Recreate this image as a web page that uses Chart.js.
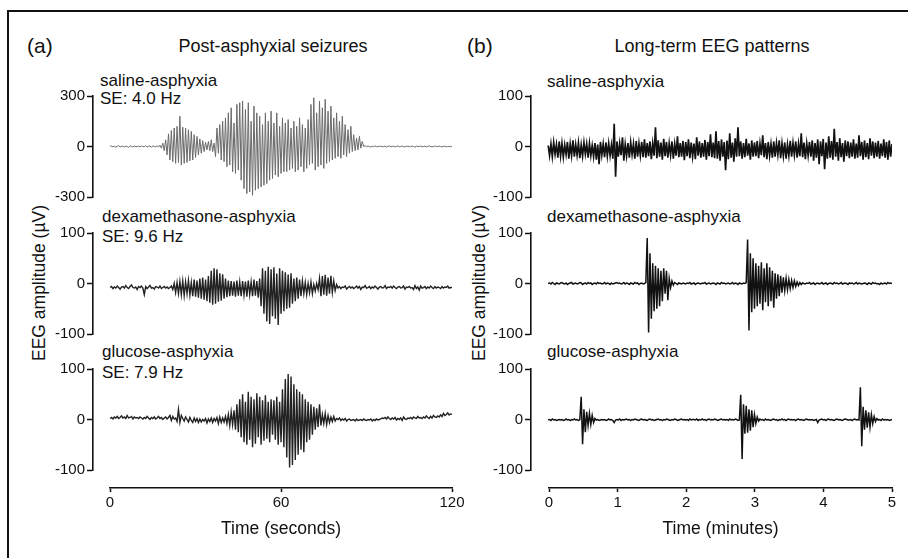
<!DOCTYPE html>
<html>
<head>
<meta charset="utf-8">
<script src="https://cdn.jsdelivr.net/npm/chart.js@4.4.1/dist/chart.umd.min.js"></script>
<style>
  body { margin: 0; background: #fff; font-family: "Liberation Sans", Arial, sans-serif; color: #111; }
  #page { position: relative; width: 908px; height: 558px; overflow: hidden; }
  #frame { position: absolute; left: 7px; top: 10px; width: 920px; height: 570px; border-left: 2px solid #111; border-top: 2px solid #111; }
  canvas { position: absolute; }
  .t { position: absolute; white-space: nowrap; line-height: 1; }
  .lbl { font-size: 17px; }
  .ttl { font-size: 18px; }
  .pan { font-size: 21px; }
  .ylab { position: absolute; width: 220px; height: 20px; line-height: 20px; text-align: center; font-size: 17.5px; transform: rotate(-90deg); white-space: nowrap; }
</style>
</head>
<body>
<div id="page">
  <div id="frame"></div>

  <div class="t pan" style="left:27px; top:35px">(a)</div>
  <div class="t ttl" style="left:273px; top:37px; transform:translateX(-50%)">Post-asphyxial seizures</div>
  <div class="t pan" style="left:467px; top:35px">(b)</div>
  <div class="t ttl" style="left:712px; top:37px; transform:translateX(-50%)">Long-term EEG patterns</div>

  <div class="t lbl" style="left:100px; top:72px">saline-asphyxia</div>
  <div class="t lbl" style="left:100px; top:90px">SE: 4.0 Hz</div>
  <div class="t lbl" style="left:102px; top:208px">dexamethasone-asphyxia</div>
  <div class="t lbl" style="left:102px; top:228px">SE: 9.6 Hz</div>
  <div class="t lbl" style="left:102px; top:343px">glucose-asphyxia</div>
  <div class="t lbl" style="left:102px; top:364px">SE: 7.9 Hz</div>

  <div class="t lbl" style="left:547px; top:73px">saline-asphyxia</div>
  <div class="t lbl" style="left:547px; top:208px">dexamethasone-asphyxia</div>
  <div class="t lbl" style="left:547px; top:343px">glucose-asphyxia</div>

  <div class="ylab" style="left:-71px; top:273px">EEG amplitude (µV)</div>
  <div class="ylab" style="left:369px; top:273px">EEG amplitude (µV)</div>
</div>

<script>
// seizure traces, 0-120 s, one value every 0.5 s (µV)
const salineSeizure = [
  0,3,-2,2,-4,1,5,-2,0,3,
  -3,2,0,-5,4,1,-2,3,-1,0,
  2,-3,4,0,-2,5,-4,2,1,-3,
  3,0,-2,4,-3,8,-10,20,-25,40,
  -50,75,-80,95,-90,110,-100,120,-95,180,
  -110,115,-100,110,-95,100,-85,90,-80,70,
  -65,60,-50,45,-40,35,-30,25,-20,30,
  -25,40,-30,20,-60,110,-40,130,-80,150,
  -90,170,-120,200,-110,230,-150,140,-160,250,
  -140,260,-200,270,-250,220,-280,260,-270,150,
  -290,240,-260,200,-250,180,-240,130,-230,200,
  -220,150,-200,210,-190,140,-170,200,-180,120,
  -160,170,-150,140,-150,160,-140,110,-130,150,
  -150,120,-140,170,-120,130,-150,110,-130,160,
  -110,250,-100,290,-140,200,-120,270,-110,230,
  -130,280,-100,210,-90,240,-80,170,-70,200,
  -60,150,-70,180,-50,130,-60,100,-40,120,
  -30,70,-25,50,-20,60,-10,30,0,5,
  -2,3,0,-3,2,-1,4,-2,1,0,
  3,-2,0,2,-4,1,3,-1,0,2,
  -3,1,4,-2,0,3,-1,-3,2,0,
  1,-2,3,0,-4,2,1,-1,3,-2,
  0,2,-3,1,4,-1,0,-2,3,1,
  -1,2,0,-3,1,2,-2,0,1,-1,
  0
];
const dexaSeizure = [
  -8,-6,-10,-7,-9,-5,-8,-11,-7,-6,
  -9,-4,-8,-10,-6,-3,-8,-9,-7,-12,
  -6,-8,-5,-9,-22,-6,-10,-7,-4,-9,
  -8,-11,-6,-7,-9,-5,-10,-8,-6,-9,
  -7,-10,-8,-5,-12,0,-18,2,-20,4,
  -22,5,-24,3,-20,6,-23,2,-25,8,
  -26,6,-28,10,-30,12,-32,8,-35,15,
  -38,25,-42,30,-40,28,-36,20,-34,18,
  -30,10,-27,6,-25,5,-24,4,-26,6,
  -24,3,-25,5,-23,4,-26,6,-22,3,
  -25,8,-24,5,-28,10,-45,30,-60,25,
  -75,33,-80,28,-65,32,-70,20,-82,30,
  -60,25,-55,22,-50,18,-48,20,-40,10,
  -35,12,-30,8,-25,5,-20,2,-22,0,
  -18,3,-20,-2,-15,0,-12,10,-25,15,
  -22,17,-24,12,-20,15,-18,5,-14,-2,
  -9,-6,-10,-7,-8,-5,-11,-8,-6,-9,
  -7,-10,-8,-5,-9,-6,-12,-7,-8,-4,
  -9,-8,-6,-10,-7,-9,-5,-8,-11,-7,
  -6,-9,-8,-4,-10,-7,-8,-6,-9,-5,
  -8,-10,-7,-6,-9,-8,-5,-11,-7,-8,
  -6,-9,-8,-12,-4,-10,-7,-13,-5,-9,
  -8,-6,-10,-7,-9,-5,-8,-10,-6,-9,
  -7,-8,-10,-6,-9,-7,-8,-5,-9,-8,
  -8
];
const glucoseSeizure = [
  2,4,1,5,3,6,2,4,7,3,
  5,2,8,3,4,6,1,5,3,4,
  2,5,3,1,4,2,6,3,0,4,
  2,5,1,3,6,2,4,0,3,5,
  1,4,8,-2,6,1,3,-4,20,-6,
  8,2,-3,5,0,-5,4,-2,-6,3,
  -4,2,-6,1,-5,0,-3,2,-7,1,
  -4,3,-6,2,-3,4,-8,5,-6,3,
  -5,6,-8,10,-12,15,-10,18,-20,30,
  -25,40,-35,50,-45,35,-50,55,-40,45,
  -55,40,-48,52,-35,45,-50,38,-42,48,
  -38,35,-45,40,-30,38,-40,45,-50,35,
  -45,60,-55,80,-75,90,-95,85,-90,70,
  -80,60,-70,55,-60,50,-65,40,-45,35,
  -40,30,-30,25,-20,22,-15,30,-12,10,
  -8,12,-10,8,-6,5,-4,6,-3,2,
  0,3,-2,1,-1,2,-3,0,1,-2,
  -1,0,-3,1,-2,-1,0,-2,1,-1,
  -2,0,-1,1,-3,0,-2,1,-1,0,
  1,3,2,4,1,5,2,0,3,1,
  4,-1,2,0,3,-2,5,1,0,3,
  2,4,1,5,3,2,6,3,4,2,
  5,3,7,4,2,6,3,8,5,4,
  7,5,9,6,12,8,10,13,9,11,
  10
];

// long-term traces, 0-5 min, one value every 0.02 min (µV)
const salineLong = [
  2,-18,5,-20,8,-15,4,-22,10,-19,
  6,-21,3,-16,9,-24,5,-18,12,-20,
  4,-17,7,-23,3,-19,8,-15,5,-22,
  6,-18,2,-20,7,-26,4,-35,9,-17,
  5,-21,8,-19,6,-18,3,-24,45,-60,
  10,-20,6,-17,18,-28,4,-19,7,-22,
  8,-16,5,-24,11,-20,6,-18,9,-21,
  14,-22,7,-19,10,-25,6,-18,38,-23,
  12,-20,8,-26,15,-19,9,-22,6,-17,
  10,-24,5,-18,20,-21,7,-20,11,-27,
  9,-19,14,-23,8,-20,6,-25,18,-18,
  10,-22,7,-20,13,-26,9,-19,24,-21,
  8,-23,30,-24,11,-28,14,-20,9,-47,
  12,-25,26,-22,8,-30,16,-20,38,-19,
  10,-24,7,-21,15,-18,6,-26,12,-20,
  8,-19,11,-23,6,-17,22,-21,7,-25,
  9,-18,5,-22,10,-20,7,-16,12,-23,
  6,-19,8,-24,4,-18,11,-20,7,-17,
  10,-22,5,-19,26,-21,8,-25,6,-18,
  9,-20,12,-28,7,-22,14,-35,10,-19,
  15,-45,8,-24,20,-22,11,-26,35,-20,
  9,-28,16,-21,7,-30,12,-19,10,-23,
  8,-20,14,-24,6,-22,22,-19,9,-26,
  12,-21,7,-25,16,-18,10,-23,8,-20,
  11,-24,6,-19,14,-22,9,-26,12,-20,
  5
];
const dexaLong = [
  0,1,-1,2,0,-2,1,0,-1,1,
  2,0,-1,1,-2,0,1,2,-1,0,
  1,-1,0,2,1,-2,0,1,-1,2,
  0,1,-2,0,1,-1,2,0,1,-1,
  0,2,-1,1,0,-2,1,-1,0,1,
  2,0,1,-1,0,2,-1,1,0,-2,
  1,0,-1,2,0,1,-2,0,1,-1,
  0,2,90,-97,60,-70,40,-55,35,-50,
  30,-45,25,-35,30,-20,25,-33,10,-8,
  5,-3,2,0,-2,1,0,-1,1,0,
  -1,1,0,2,-1,0,1,-2,0,1,
  0,-1,1,0,2,-1,0,1,-1,0,
  1,0,-2,1,0,-1,2,0,1,-1,
  0,1,-1,0,2,-1,1,0,-2,1,
  0,-1,1,0,2,87,-93,60,-57,50,
  -50,40,-45,35,-40,42,-53,30,-37,40,
  -45,32,-35,25,-48,20,-30,18,-25,15,
  -18,12,-14,10,-12,8,-10,6,-8,5,
  -6,3,-4,2,-2,1,0,-1,1,0,
  2,-1,0,1,-2,0,1,-1,0,2,
  -1,0,1,-2,0,1,0,-1,2,0,
  1,-1,0,2,-1,0,1,0,-2,1,
  0,1,-1,0,2,-1,1,0,-1,0,
  1,0,-2,1,0,-1,2,0,1,-1,
  0,-2,1,-1,0,1,-1,2,0,1,
  0
];
const glucoseLong = [
  -1,0,-2,1,-1,0,-2,-1,0,-1,
  0,-2,-1,1,-1,0,-2,0,-1,1,
  -1,0,-2,0,45,-49,20,-25,15,-12,
  12,-10,8,-6,2,-1,0,-2,-1,0,
  -1,0,-2,-1,1,-1,0,-2,-6,-1,
  0,-1,1,-2,0,-1,0,1,-1,0,
  -2,0,-1,1,0,-1,-2,0,1,-1,
  0,-1,-2,0,1,-1,0,-2,-1,0,
  1,-1,0,-2,0,-1,1,0,-1,-2,
  0,-1,1,0,-2,-1,0,1,-1,0,
  -1,0,-2,1,-1,0,0,-1,1,-2,
  0,-1,1,-1,0,-2,0,1,-1,0,
  -1,1,0,-2,-1,0,1,-1,0,-1,
  0,-2,1,-1,0,-1,1,0,-2,-1,
  49,-78,30,-28,27,-26,20,-22,18,-15,
  10,-8,5,-3,1,-1,0,-2,1,-1,
  0,-1,-2,0,1,-1,0,-2,0,-1,
  1,-1,0,-2,0,1,-1,0,-1,0,
  -2,0,1,-1,0,-1,-2,0,1,-1,
  0,-1,0,-2,-1,0,-6,-1,0,1,
  -1,0,-2,0,1,-1,0,-1,-2,0,
  1,-1,0,-1,-2,0,1,0,-1,-1,
  0,-2,0,1,-1,0,-1,64,-53,25,
  -20,18,-16,14,-15,10,-8,6,-4,2,
  -1,0,-2,1,-1,0,-1,0,-2,-1,
  0
];

const seizureSpan = 120;   // seconds
const longSpan = 5;        // minutes
const secondsTicks = [0, 60, 120];
const minuteTicks = [0, 1, 2, 3, 4, 5];
const ticks300 = [-300, 0, 300];
const ticks100 = [-100, 0, 100];

const FONT = '"Liberation Sans", Arial, sans-serif';
Chart.defaults.font.family = FONT;
Chart.defaults.color = '#111';

const page = document.getElementById('page');

function place(left, top, w, h) {
  const c = document.createElement('canvas');
  c.width = w; c.height = h;
  c.style.left = left + 'px'; c.style.top = top + 'px';
  c.style.width = w + 'px'; c.style.height = h + 'px';
  page.appendChild(c);
  return c;
}

function traceChart(values, span, yTicks, color, lw, axisX, right, top, bottom) {
  const AXIS_W = 50, PAD = 12;
  const c = place(axisX - AXIS_W, top - PAD, right - axisX + AXIS_W, bottom - top + 2 * PAD);
  const step = span / (values.length - 1);
  const ymax = yTicks[yTicks.length - 1];
  new Chart(c, {
    type: 'line',
    data: {
      datasets: [{
        data: values.map((v, i) => ({ x: i * step, y: v })),
        borderColor: color,
        borderWidth: lw,
        borderJoinStyle: 'miter',
        pointRadius: 0,
        tension: 0,
        fill: false
      }]
    },
    options: {
      responsive: false,
      animation: false,
      events: [],
      devicePixelRatio: 1,
      layout: { padding: { top: PAD, bottom: PAD, left: 0, right: 0 } },
      plugins: { legend: { display: false }, tooltip: { enabled: false } },
      scales: {
        x: { type: 'linear', display: false, min: -0.05 * span, max: span },
        y: {
          min: -ymax, max: ymax,
          afterFit: s => { s.width = AXIS_W; },
          afterBuildTicks: s => { s.ticks = yTicks.map(v => ({ value: v })); },
          ticks: { color: '#111', font: { size: 15 }, padding: 2 },
          grid: { drawOnChartArea: false, tickLength: 6, tickColor: '#111', tickWidth: 1.5 },
          border: { display: true, color: '#111', width: 1.6 }
        }
      }
    }
  });
}

function timeAxis(left0, right0, axisY, span, xTicks, title) {
  const PADX = 24, ABOVE = 6, SCALE_H = 52;
  const c = place(left0 - PADX, axisY - ABOVE, right0 - left0 + 2 * PADX, ABOVE + SCALE_H);
  new Chart(c, {
    type: 'line',
    data: { datasets: [] },
    options: {
      responsive: false,
      animation: false,
      events: [],
      devicePixelRatio: 1,
      layout: { padding: { top: 0, bottom: 0, left: PADX, right: PADX } },
      plugins: { legend: { display: false }, tooltip: { enabled: false } },
      scales: {
        x: {
          type: 'linear', position: 'bottom', min: 0, max: span,
          afterFit: s => { s.height = SCALE_H; },
          afterBuildTicks: s => { s.ticks = xTicks.map(v => ({ value: v })); },
          ticks: { color: '#111', font: { size: 15 }, padding: 2, maxRotation: 0 },
          grid: { drawOnChartArea: false, tickLength: 4, tickColor: '#111', tickWidth: 1.5 },
          border: { display: true, color: '#111', width: 1.6 },
          title: { display: true, text: title, color: '#111', font: { size: 17.5 }, padding: { top: 0, bottom: 0 } }
        },
        y: { display: false }
      }
    }
  });
}

// left panel: post-asphyxial seizures
traceChart(salineSeizure, seizureSpan, ticks300, '#6a6a6a', 1, 93, 452, 96, 197);
traceChart(dexaSeizure, seizureSpan, ticks100, '#222', 1.4, 93, 452, 233, 334);
traceChart(glucoseSeizure, seizureSpan, ticks100, '#222', 1.4, 93, 452, 369, 470);
timeAxis(110, 452, 488, seizureSpan, secondsTicks, 'Time (seconds)');

// right panel: long-term EEG patterns
traceChart(salineLong, longSpan, ticks100, '#111', 1.7, 531, 892, 96, 197);
traceChart(dexaLong, longSpan, ticks100, '#111', 1.5, 531, 892, 233, 334);
traceChart(glucoseLong, longSpan, ticks100, '#111', 1.5, 531, 892, 369, 470);
timeAxis(549, 892, 488, longSpan, minuteTicks, 'Time (minutes)');
</script>
</body>
</html>
